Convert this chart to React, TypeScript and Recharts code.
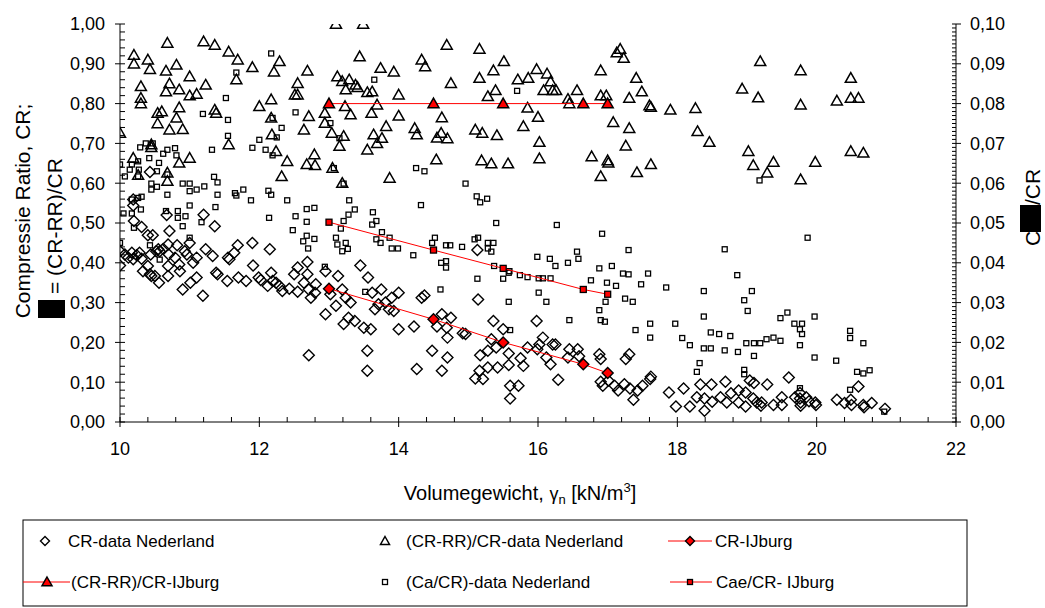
import React from "react";
import { ScatterChart, Scatter, XAxis, YAxis } from "recharts";

type Pt = [number, number];

const FONT = "'Liberation Sans', Arial, sans-serif";

// axis labels
const X_MAJOR = [10, 12, 14, 16, 18, 20, 22];
const Y_LEFT_MAJOR = [0, 0.1, 0.2, 0.3, 0.4, 0.5, 0.6, 0.7, 0.8, 0.9, 1.0];
const Y_RIGHT_MAJOR = [0, 0.01, 0.02, 0.03, 0.04, 0.05, 0.06, 0.07, 0.08, 0.09, 0.1];

// CR-data Nederland (left axis)
const crNederland: Pt[] = [
  [10.19, 0.559], [10.19, 0.544], [10.2, 0.505], [10.31, 0.49], [10.43, 0.628], [10.67, 0.52], [10.71, 0.48],
  [10.4, 0.469], [10.47, 0.469], [11.2, 0.521], [11.36, 0.492],
  [10.0, 0.429], [10.0, 0.393], [10.07, 0.421], [10.12, 0.413], [10.17, 0.425], [10.19, 0.409], [10.24, 0.419],
  [10.28, 0.425], [10.31, 0.41], [10.33, 0.379], [10.4, 0.392], [10.43, 0.371], [10.45, 0.367], [10.5, 0.367],
  [10.44, 0.421], [10.52, 0.429], [10.55, 0.434], [10.57, 0.429], [10.62, 0.435], [10.56, 0.35], [10.69, 0.446],
  [10.7, 0.421], [10.69, 0.392], [10.69, 0.367], [10.79, 0.413], [10.82, 0.444], [10.85, 0.396], [10.86, 0.379],
  [10.9, 0.333], [10.93, 0.429], [10.96, 0.421], [11.0, 0.45], [11.01, 0.35], [11.05, 0.4], [11.1, 0.363],
  [11.1, 0.413], [11.19, 0.317], [11.23, 0.434], [11.33, 0.417], [11.38, 0.375], [11.4, 0.371], [11.55, 0.413],
  [11.57, 0.409], [11.54, 0.354], [11.64, 0.425], [11.69, 0.444], [11.7, 0.363], [11.81, 0.354], [11.9, 0.45],
  [11.91, 0.393], [11.99, 0.363], [12.02, 0.357], [12.15, 0.434], [12.17, 0.375], [12.12, 0.342], [12.19, 0.354],
  [12.24, 0.35], [12.29, 0.342], [12.33, 0.329], [12.43, 0.335], [12.5, 0.371], [12.55, 0.327], [12.55, 0.388],
  [12.69, 0.402], [12.69, 0.371], [12.64, 0.35], [12.71, 0.333], [12.74, 0.312], [12.81, 0.346], [12.8, 0.325],
  [12.71, 0.168], [12.95, 0.379], [12.95, 0.271], [13.02, 0.321], [13.1, 0.292], [13.13, 0.367], [13.19, 0.333],
  [13.24, 0.312], [13.21, 0.246], [13.28, 0.262], [13.31, 0.3], [13.37, 0.254], [13.45, 0.393], [13.5, 0.237],
  [13.55, 0.179], [13.55, 0.129], [13.6, 0.233], [13.56, 0.363], [13.62, 0.325], [13.66, 0.283],
  [13.71, 0.296], [13.75, 0.333], [13.81, 0.3], [13.86, 0.283], [13.9, 0.312], [13.93, 0.279], [14.0, 0.325],
  [14.0, 0.233], [14.22, 0.24], [14.26, 0.133], [14.33, 0.312], [14.37, 0.318], [14.48, 0.179], [14.55, 0.24],
  [14.62, 0.271], [14.62, 0.129], [14.69, 0.237], [14.7, 0.212], [14.7, 0.162], [14.75, 0.262], [14.92, 0.223],
  [14.96, 0.221], [15.14, 0.308], [15.1, 0.109], [15.17, 0.168], [15.16, 0.129], [15.21, 0.108], [15.28, 0.137],
  [15.28, 0.179], [15.36, 0.254], [15.33, 0.208], [15.4, 0.187], [15.42, 0.137], [15.5, 0.233], [15.58, 0.172],
  [15.58, 0.143], [15.6, 0.091], [15.6, 0.059], [15.72, 0.091], [15.75, 0.16], [15.79, 0.141], [15.85, 0.187],
  [15.98, 0.254], [15.99, 0.183], [16.02, 0.195], [16.07, 0.212], [16.12, 0.162], [16.18, 0.145], [16.21, 0.195],
  [16.25, 0.195], [16.29, 0.106], [16.43, 0.162], [16.45, 0.183], [16.57, 0.183], [16.59, 0.165], [16.88, 0.17],
  [16.9, 0.158], [16.9, 0.101], [16.93, 0.091], [17.01, 0.104], [17.1, 0.091], [17.15, 0.079], [17.24, 0.095],
  [17.26, 0.158], [17.31, 0.17], [17.32, 0.084], [17.37, 0.056], [17.43, 0.079], [17.5, 0.091], [17.61, 0.108],
  [17.62, 0.114], [15.13, 0.432],
  [17.88, 0.074], [17.98, 0.039], [18.09, 0.084], [18.18, 0.039], [18.28, 0.062], [18.33, 0.094], [18.39, 0.059],
  [18.39, 0.028], [18.49, 0.094], [18.5, 0.051], [18.62, 0.062], [18.69, 0.101], [18.71, 0.049], [18.77, 0.072],
  [18.88, 0.079], [18.88, 0.049], [18.98, 0.074], [18.98, 0.039], [19.04, 0.104], [19.09, 0.059], [19.1, 0.098],
  [19.14, 0.049], [19.21, 0.049], [19.2, 0.041], [19.29, 0.094], [19.38, 0.043], [19.5, 0.062], [19.5, 0.043],
  [19.6, 0.112], [19.69, 0.062], [19.76, 0.073], [19.76, 0.059], [19.77, 0.049], [19.77, 0.041], [19.85, 0.062],
  [19.89, 0.052], [19.98, 0.049], [19.99, 0.043], [20.29, 0.056], [20.4, 0.048], [20.49, 0.056], [20.5, 0.043],
  [20.6, 0.089], [20.67, 0.043], [20.68, 0.037], [20.79, 0.048], [20.98, 0.033],
];

// (CR-RR)/CR-data Nederland (left axis)
const rrNederland: Pt[] = [
  [10.0, 0.726], [10.2, 0.922], [10.2, 0.9], [10.4, 0.91], [10.43, 0.886], [10.3, 0.843], [10.3, 0.814],
  [10.3, 0.8], [10.19, 0.663], [10.26, 0.62], [10.45, 0.697], [10.45, 0.69], [10.54, 0.776], [10.54, 0.75],
  [10.6, 0.78], [10.68, 0.952], [10.66, 0.882], [10.66, 0.83], [10.71, 0.85], [10.71, 0.734], [10.81, 0.897],
  [10.85, 0.835], [10.85, 0.79], [10.81, 0.764], [10.9, 0.735], [10.68, 0.626], [10.68, 0.605], [10.85, 0.651],
  [11.0, 0.868], [11.0, 0.82], [11.1, 0.824], [11.0, 0.663], [11.23, 0.847], [11.2, 0.956], [11.36, 0.947],
  [11.36, 0.784], [11.38, 0.776], [11.56, 0.93], [11.69, 0.91], [11.67, 0.86], [11.56, 0.697], [11.9, 0.891],
  [12.0, 0.793], [12.17, 0.81], [12.17, 0.764], [12.18, 0.722], [12.24, 0.68], [12.29, 0.906], [12.21, 0.88],
  [12.32, 0.617], [12.4, 0.655], [12.55, 0.851], [12.51, 0.822], [12.55, 0.822], [12.69, 0.882], [12.71, 0.768],
  [12.64, 0.734], [12.79, 0.672], [12.68, 0.647], [12.8, 0.645], [12.94, 0.776], [12.94, 0.751], [13.04, 0.726],
  [13.05, 0.638], [13.1, 1.0], [13.49, 1.0], [13.44, 0.918], [13.12, 0.868], [13.19, 0.856], [13.24, 0.835],
  [13.29, 0.86], [13.38, 0.847], [13.41, 0.841], [13.23, 0.793], [13.31, 0.772], [13.21, 0.718], [13.15, 0.693],
  [13.19, 0.6], [13.55, 0.828], [13.55, 0.684],
  [13.62, 0.83], [13.69, 0.797], [13.74, 0.889], [13.93, 0.88], [14.0, 0.822], [14.0, 0.769], [13.61, 0.776],
  [13.64, 0.722], [13.76, 0.713], [13.69, 0.7], [13.82, 0.743], [13.87, 0.613], [14.33, 0.91], [14.38, 0.893],
  [14.23, 0.738], [14.26, 0.722], [14.69, 0.947], [14.75, 0.851], [14.62, 0.765], [14.61, 0.726], [14.55, 0.714],
  [14.7, 0.712], [14.54, 0.659], [15.16, 0.937], [15.16, 0.864], [15.36, 0.883], [15.51, 0.906], [15.39, 0.833],
  [15.28, 0.818], [15.1, 0.734], [15.2, 0.726], [15.41, 0.72], [15.19, 0.657], [15.33, 0.649], [15.57, 0.649],
  [15.71, 0.86], [15.86, 0.864], [15.98, 0.886], [16.13, 0.875], [16.18, 0.855], [16.08, 0.833], [16.21, 0.833],
  [16.26, 0.833], [15.85, 0.789], [16.0, 0.766], [15.79, 0.743], [16.02, 0.703], [16.02, 0.662], [16.43, 0.811],
  [16.56, 0.833], [16.45, 0.8], [16.9, 0.883], [16.9, 0.82], [16.98, 0.82], [17.13, 0.928], [17.18, 0.937],
  [17.23, 0.914], [17.41, 0.864], [17.49, 0.83], [17.31, 0.814], [17.6, 0.795], [17.62, 0.791], [17.08, 0.753],
  [17.31, 0.738], [17.26, 0.694], [16.77, 0.667], [17.0, 0.657], [17.01, 0.651], [16.9, 0.617], [17.42, 0.627],
  [17.62, 0.647],
  [17.9, 0.784], [18.26, 0.788], [18.29, 0.73], [18.46, 0.703], [18.93, 0.837], [19.19, 0.906], [19.16, 0.815],
  [19.02, 0.68], [19.09, 0.645], [19.38, 0.653], [19.29, 0.626], [19.77, 0.883], [19.77, 0.797], [19.77, 0.609],
  [19.98, 0.653], [20.29, 0.807], [20.49, 0.864], [20.49, 0.814], [20.6, 0.814], [20.49, 0.68], [20.67, 0.676],
];

// (Ca/CR)-data Nederland (right axis)
const caNederland: Pt[] = [
  [10.0, 0.0647], [10.0, 0.045], [10.07, 0.0617], [10.05, 0.0524], [10.17, 0.0524], [10.17, 0.0647], [10.14, 0.0634],
  [10.26, 0.0655], [10.27, 0.0634], [10.26, 0.0617], [10.17, 0.0559], [10.26, 0.0563], [10.31, 0.0566], [10.2, 0.0488],
  [10.3, 0.0534], [10.29, 0.069], [10.37, 0.07], [10.47, 0.07], [10.42, 0.0663], [10.45, 0.0599], [10.45, 0.0584],
  [10.53, 0.063], [10.53, 0.0591], [10.56, 0.0651], [10.62, 0.0674], [10.68, 0.0684], [10.79, 0.0688], [10.81, 0.067],
  [10.68, 0.0571], [10.68, 0.0622], [10.66, 0.053], [10.83, 0.053], [10.83, 0.0513], [10.94, 0.0517], [10.9, 0.0492],
  [10.9, 0.0599], [11.0, 0.0599], [11.0, 0.058], [11.0, 0.0544], [11.0, 0.0463], [11.1, 0.0584], [11.21, 0.0592],
  [11.19, 0.0774], [11.32, 0.0684], [11.35, 0.0616], [11.4, 0.0602], [11.4, 0.0571], [11.37, 0.054], [11.17, 0.0502],
  [11.52, 0.0814], [11.55, 0.0759], [11.55, 0.0719], [11.67, 0.0878], [11.65, 0.0575], [11.67, 0.0569], [11.77, 0.0584],
  [11.88, 0.0557], [11.9, 0.0689], [12.0, 0.0709], [12.09, 0.0684], [12.17, 0.0926], [12.13, 0.0581], [12.17, 0.0571],
  [12.14, 0.0513], [12.19, 0.067], [12.19, 0.0764], [12.25, 0.0715], [12.32, 0.0739], [12.4, 0.0557], [12.48, 0.0482],
  [12.52, 0.0778], [12.52, 0.0517], [12.63, 0.0454], [12.68, 0.0535], [12.68, 0.0503], [12.68, 0.0468], [12.7, 0.0436],
  [12.79, 0.0538], [12.79, 0.046], [13.02, 0.0751], [13.15, 0.0713], [13.07, 0.0638], [13.21, 0.0599], [13.29, 0.0557],
  [13.37, 0.0534], [13.28, 0.0521], [13.21, 0.0505], [13.17, 0.0486], [13.1, 0.0463], [13.12, 0.0446], [13.24, 0.045],
  [13.27, 0.0435], [13.19, 0.0429],
  [10.43, 0.0444], [10.57, 0.0408], [12.94, 0.039], [13.52, 0.0327],
  [13.65, 0.086], [15.7, 0.0832], [14.25, 0.0638], [14.37, 0.063], [14.96, 0.0599], [15.12, 0.0567], [15.27, 0.0561],
  [15.17, 0.0552], [14.32, 0.0545], [13.63, 0.0527], [13.68, 0.0505], [13.62, 0.0496], [13.76, 0.0477], [13.87, 0.0463],
  [13.68, 0.0459], [13.74, 0.045], [13.9, 0.0436], [13.99, 0.0436], [14.52, 0.0463], [14.48, 0.045], [14.68, 0.0444],
  [14.74, 0.0444], [14.91, 0.044], [15.09, 0.0459], [15.14, 0.0463], [15.28, 0.045], [15.36, 0.045], [15.28, 0.0436],
  [15.33, 0.0428], [14.21, 0.0419], [15.4, 0.05], [16.27, 0.0495], [16.92, 0.0473], [16.56, 0.0428], [17.3, 0.0432],
  [15.99, 0.0415], [16.17, 0.041], [16.58, 0.041],
  [14.61, 0.04], [14.68, 0.0404], [14.68, 0.0388], [15.37, 0.0392], [15.5, 0.036], [15.58, 0.0375], [15.59, 0.0379],
  [15.74, 0.0369], [15.85, 0.0364], [16.01, 0.0361], [16.07, 0.0361], [16.18, 0.0361], [16.25, 0.0392], [16.43, 0.04],
  [16.76, 0.0356], [16.88, 0.0386], [17.06, 0.0392], [16.99, 0.035], [17.12, 0.0342], [17.22, 0.0373], [17.3, 0.0371],
  [17.48, 0.0346], [17.58, 0.0373], [17.84, 0.0338], [15.13, 0.036], [14.6, 0.0333], [15.58, 0.0302], [16.01, 0.0325],
  [16.12, 0.0302], [16.45, 0.0256], [16.88, 0.0281], [16.9, 0.0256], [16.96, 0.0252], [16.97, 0.0302], [17.25, 0.031],
  [17.36, 0.0302], [17.4, 0.0231], [17.61, 0.0247], [17.61, 0.0212], [15.6, 0.0231],
  [19.18, 0.0607], [19.87, 0.0463], [18.68, 0.0434],
  [18.86, 0.0369], [18.38, 0.0329], [19.07, 0.0329], [18.96, 0.0306], [19.01, 0.0279], [18.38, 0.0265], [17.97, 0.0247],
  [19.58, 0.0275], [19.48, 0.0261], [19.68, 0.0247], [19.79, 0.0247], [19.76, 0.0233], [19.79, 0.0221], [19.97, 0.0265],
  [18.48, 0.0225], [18.6, 0.0221], [18.76, 0.0216], [18.07, 0.0211], [18.18, 0.0193], [18.99, 0.0198], [19.1, 0.0198],
  [19.19, 0.0198], [19.28, 0.0208], [19.38, 0.0212], [19.48, 0.0204], [18.38, 0.0185], [18.48, 0.0185], [18.68, 0.018],
  [18.87, 0.0176], [19.1, 0.0166], [19.76, 0.0193], [19.97, 0.0162], [20.28, 0.0154], [20.48, 0.0229], [20.48, 0.0211],
  [20.67, 0.0198], [18.32, 0.0148], [18.28, 0.0126], [18.96, 0.0131], [18.96, 0.012], [20.58, 0.0126], [20.67, 0.0122],
  [20.76, 0.013], [20.48, 0.0081], [19.76, 0.0085], [20.97, 0.0026],
];

// IJburg series
const ijburgGamma = [13.0, 14.5, 15.5, 16.65, 17.0];
const ijburgCR = [0.335, 0.258, 0.2, 0.145, 0.123];
const ijburgRR = [0.8, 0.8, 0.8, 0.8, 0.8];
const ijburgCae = [0.0502, 0.0432, 0.0386, 0.0333, 0.0321];

const toRows = (pts: Pt[]) => pts.map(([x, y]) => ({ x, y }));
const zipRows = (xs: number[], ys: number[]) => xs.map((x, i) => ({ x, y: ys[i] }));

const steps = (from: number, to: number, step: number) => {
  const out: number[] = [];
  const n = Math.round((to - from) / step);
  for (let i = 0; i <= n; i++) out.push(+(from + i * step).toFixed(4));
  return out;
};

const isMajor = (v: number, majors: number[]) => majors.some((m) => Math.abs(m - v) < 1e-6);
const comma = (v: number) => v.toFixed(2).replace(".", ",");

function XTick(props: any) {
  const { x, y, payload } = props;
  const major = isMajor(payload.value, X_MAJOR);
  return (
    <g>
      <line x1={x} x2={x} y1={y - 5} y2={major ? y + 5 : y} stroke="#000" strokeWidth={1} />
      {major && (
        <text x={x} y={y + 33} textAnchor="middle" fontSize={18} fontFamily={FONT} fill="#000">
          {payload.value}
        </text>
      )}
    </g>
  );
}

function LeftTick(props: any) {
  const { x, y, payload } = props;
  const major = isMajor(payload.value, Y_LEFT_MAJOR);
  return (
    <g>
      <line x1={major ? x - 5 : x} x2={x + 5} y1={y} y2={y} stroke="#000" strokeWidth={1} />
      {major && (
        <text x={x - 15} y={y} dy="0.35em" textAnchor="end" fontSize={18} fontFamily={FONT} fill="#000">
          {comma(payload.value)}
        </text>
      )}
    </g>
  );
}

function RightTick(props: any) {
  const { x, y, payload } = props;
  const major = isMajor(payload.value, Y_RIGHT_MAJOR);
  return (
    <g>
      <line x1={x - 4} x2={major ? x + 5 : x} y1={y} y2={y} stroke="#000" strokeWidth={1} />
      {major && (
        <text x={x + 14} y={y} dy="0.35em" textAnchor="start" fontSize={18} fontFamily={FONT} fill="#000">
          {comma(payload.value)}
        </text>
      )}
    </g>
  );
}

const Diamond = ({ cx, cy, fill = "none", r = 5.5 }: any) => (
  <polygon
    points={`${cx},${cy - r} ${cx + r},${cy} ${cx},${cy + r} ${cx - r},${cy}`}
    fill={fill}
    stroke="#000"
    strokeWidth={1.4}
  />
);

const Triangle = ({ cx, cy, fill = "none", r = 5.5 }: any) => (
  <polygon
    points={`${cx},${cy - r} ${cx + r},${cy + r * 0.75} ${cx - r},${cy + r * 0.75}`}
    fill={fill}
    stroke="#000"
    strokeWidth={1.5}
  />
);

const Square = ({ cx, cy, fill = "none", s = 5 }: any) => (
  <rect x={cx - s / 2} y={cy - s / 2} width={s} height={s} fill={fill} stroke="#000" strokeWidth={1.3} />
);

function Legend() {
  const t = { fontSize: 17, fontFamily: FONT, fill: "#000" } as const;
  const r1 = 541;
  const r2 = 582;
  return (
    <g>
      <rect x={23} y={520} width={944} height={86} fill="#fff" stroke="#000" strokeWidth={1} />
      <Diamond cx={45} cy={r1} r={4.5} />
      <text x={68} y={r1} dy="0.35em" {...t}>CR-data Nederland</text>
      <Triangle cx={385} cy={r1} r={4.5} />
      <text x={406} y={r1} dy="0.35em" {...t}>(CR-RR)/CR-data Nederland</text>
      <line x1={668} x2={712} y1={r1} y2={r1} stroke="#ff0000" />
      <Diamond cx={690} cy={r1} r={4.5} fill="#ff0000" />
      <text x={715} y={r1} dy="0.35em" {...t}>CR-IJburg</text>

      <line x1={23} x2={70} y1={r2} y2={r2} stroke="#ff0000" />
      <Triangle cx={47} cy={r2} r={5} fill="#ff0000" />
      <text x={71} y={r2} dy="0.35em" {...t}>(CR-RR)/CR-IJburg</text>
      <Square cx={385} cy={r2} s={5} />
      <text x={406} y={r2} dy="0.35em" {...t}>(Ca/CR)-data Nederland</text>
      <line x1={670} x2={712} y1={r2} y2={r2} stroke="#ff0000" />
      <Square cx={690} cy={r2} s={5} fill="#ff0000" />
      <text x={716} y={r2} dy="0.35em" {...t}>Cae/CR- IJburg</text>
    </g>
  );
}

function Titles() {
  const t = { fontFamily: FONT, fill: "#000" } as const;
  return (
    <g>
      {/* left axis title, two rotated lines */}
      <text transform="translate(30,211) rotate(-90)" textAnchor="middle" fontSize={21} {...t}>
        Compressie Ratio, CR;
      </text>
      <g transform="translate(62,318) rotate(-90)">
        <rect x={0} y={-24} width={18} height={27} fill="#000" />
        <text x={24} y={0} fontSize={21} {...t}>= (CR-RR)/CR</text>
      </g>
      {/* right axis title */}
      <g transform="translate(1040,246) rotate(-90)">
        <text x={0} y={0} fontSize={21} {...t}>C</text>
        <rect x={14} y={-20} width={27} height={21} fill="#000" />
        <text x={41} y={0} fontSize={21} {...t}>/CR</text>
      </g>
      {/* x axis title */}
      <text x={520} y={500} textAnchor="middle" fontSize={20} {...t}>
        Volumegewicht,{" "}
        <tspan fontSize={18}>γ</tspan>
        <tspan fontSize={13} dy={4}>n</tspan>
        <tspan dy={-4}> [kN/m</tspan>
        <tspan fontSize={13} dy={-8}>3</tspan>
        <tspan dy={8}>]</tspan>
      </text>
    </g>
  );
}

export default function App() {
  return (
    <div style={{ position: "absolute", left: 0, top: 0, width: 1045, height: 608, background: "#fff" }}>
      <ScatterChart width={1045} height={470} margin={{ top: 24, right: 0, bottom: 0, left: 0 }}>
        <XAxis
          type="number"
          dataKey="x"
          domain={[10, 22]}
          ticks={steps(10, 22, 0.4)}
          interval={0}
          allowDataOverflow
          height={48}
          tickSize={0}
          tickMargin={0}
          tickLine={false}
          tick={<XTick />}
          axisLine={{ stroke: "#000", strokeWidth: 1 }}
        />
        <YAxis
          yAxisId="left"
          type="number"
          dataKey="y"
          domain={[0, 1]}
          ticks={steps(0, 1, 0.02)}
          interval={0}
          allowDataOverflow
          width={120}
          tickSize={0}
          tickMargin={0}
          tickLine={false}
          tick={<LeftTick />}
          axisLine={{ stroke: "#000", strokeWidth: 1 }}
        />
        <YAxis
          yAxisId="right"
          orientation="right"
          type="number"
          dataKey="y"
          domain={[0, 0.1]}
          ticks={steps(0, 0.1, 0.001)}
          interval={0}
          allowDataOverflow
          width={89}
          tickSize={0}
          tickMargin={0}
          tickLine={false}
          tick={<RightTick />}
          axisLine={{ stroke: "#000", strokeWidth: 1 }}
        />
        <Scatter
          name="(Ca/CR)-data Nederland"
          yAxisId="right"
          data={toRows(caNederland)}
          shape={(p: any) => <Square cx={p.cx} cy={p.cy} />}
          isAnimationActive={false}
        />
        <Scatter
          name="(CR-RR)/CR-data Nederland"
          yAxisId="left"
          data={toRows(rrNederland)}
          shape={(p: any) => <Triangle cx={p.cx} cy={p.cy} />}
          isAnimationActive={false}
        />
        <Scatter
          name="CR-data Nederland"
          yAxisId="left"
          data={toRows(crNederland)}
          shape={(p: any) => <Diamond cx={p.cx} cy={p.cy} />}
          isAnimationActive={false}
        />
        <Scatter
          name="Cae/CR- IJburg"
          yAxisId="right"
          data={zipRows(ijburgGamma, ijburgCae)}
          line={{ stroke: "#ff0000", strokeWidth: 1 }}
          lineType="joint"
          shape={(p: any) => <Square cx={p.cx} cy={p.cy} fill="#ff0000" s={6} />}
          isAnimationActive={false}
        />
        <Scatter
          name="(CR-RR)/CR-IJburg"
          yAxisId="left"
          data={zipRows(ijburgGamma, ijburgRR)}
          line={{ stroke: "#ff0000", strokeWidth: 1 }}
          lineType="joint"
          shape={(p: any) => <Triangle cx={p.cx} cy={p.cy} fill="#ff0000" />}
          isAnimationActive={false}
        />
        <Scatter
          name="CR-IJburg"
          yAxisId="left"
          data={zipRows(ijburgGamma, ijburgCR)}
          line={{ stroke: "#ff0000", strokeWidth: 1 }}
          lineType="joint"
          shape={(p: any) => <Diamond cx={p.cx} cy={p.cy} fill="#ff0000" />}
          isAnimationActive={false}
        />
      </ScatterChart>
      <svg
        width={1045}
        height={608}
        style={{ position: "absolute", left: 0, top: 0, pointerEvents: "none" }}
      >
        <Titles />
        <Legend />
      </svg>
    </div>
  );
}
